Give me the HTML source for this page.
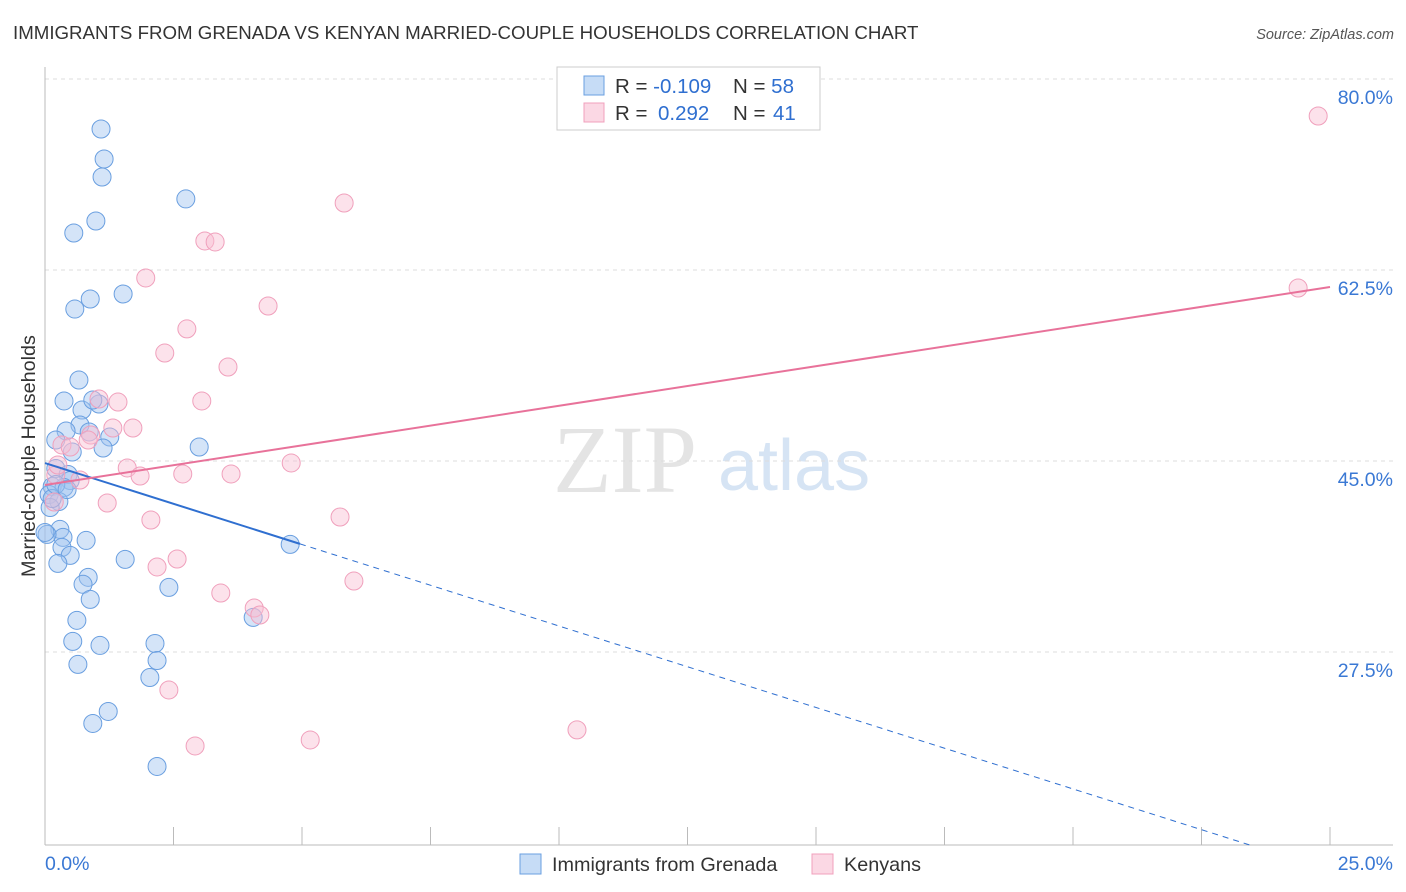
<!DOCTYPE html>
<html><head><meta charset="utf-8"><style>
body{margin:0;background:#fff;font-family:"Liberation Sans",sans-serif;}
svg{display:block}
</style></head><body>
<svg id="chart" width="1406" height="892" xmlns="http://www.w3.org/2000/svg">
<text x="13" y="39" font-size="18.7" fill="#333">IMMIGRANTS FROM GRENADA VS KENYAN MARRIED-COUPLE HOUSEHOLDS CORRELATION CHART</text>
<text x="1394" y="39" font-size="14.5" fill="#555" font-style="italic" text-anchor="end">Source: ZipAtlas.com</text>
<g>
<text x="553" y="492" font-family="Liberation Serif,serif" font-size="96" fill="#e4e4e4">ZIP</text>
<text x="718" y="490" font-size="72" fill="#d6e4f4">atlas</text>
</g>
<g id="grid"></g>
<g id="axes"></g>
<g id="pts"></g>
<g id="trends"></g>
<text transform="translate(35,456) rotate(-90)" font-size="19.8" fill="#333" text-anchor="middle">Married-couple Households</text>
<g>
<rect x="557" y="67" width="263" height="63" fill="#fff" stroke="#ccc"/>
<rect x="584" y="76" width="20" height="19" fill="rgba(160,196,240,0.6)" stroke="#6a9fe0"/>
<text x="615" y="93" font-size="20.5" fill="#333">R = <tspan fill="#2f6fd0">-0.109</tspan><tspan x="733">N = </tspan><tspan fill="#2f6fd0">58</tspan></text>
<rect x="584" y="103" width="20" height="19" fill="rgba(248,190,210,0.6)" stroke="#f0a0bc"/>
<text x="615" y="120" font-size="20.5" fill="#333">R = <tspan x="658" fill="#2f6fd0">0.292</tspan><tspan x="733">N = </tspan><tspan x="773" fill="#2f6fd0">41</tspan></text>
</g>
<g>
<rect x="520" y="854" width="21" height="20" fill="rgba(160,196,240,0.6)" stroke="#6a9fe0"/>
<text x="552" y="871" font-size="19.8" fill="#333">Immigrants from Grenada</text>
<rect x="812" y="854" width="21" height="20" fill="rgba(248,190,210,0.6)" stroke="#f0a0bc"/>
<text x="844" y="871" font-size="19.8" fill="#333">Kenyans</text>
</g>
</svg>
<script>
const yTicks=[80,62.5,45,27.5];
const yTickLabels=["80.0%","62.5%","45.0%","27.5%"];
const xTicks=[0,2.5,5,7.5,10,12.5,15,17.5,20,22.5,25];
const xEndLabels=["0.0%","25.0%"];
const grenadaX=[1.09,1.15,1.11,2.74,0.99,0.56,1.52,0.88,0.58,0.66,0.37,1.05,0.72,0.93,0.68,0.41,0.86,1.26,0.21,0.53,1.13,3.00,0.21,0.45,0.49,0.14,0.37,0.08,0.27,0.10,0.29,0.35,0.80,0.33,0.49,0.04,0.25,1.56,4.77,0.84,0.74,2.41,0.88,0.62,4.05,0.54,1.07,2.14,0.64,2.18,2.04,1.23,0.93,2.18,0.14,0.21,0.43,0.0];
const grenadaY=[77.07,74.32,72.67,70.66,68.64,67.54,61.95,61.49,60.57,54.07,52.15,51.87,51.32,52.24,49.95,49.40,49.31,48.85,48.57,47.47,47.84,47.93,45.96,45.41,44.86,44.31,44.22,43.58,42.94,42.39,40.38,39.65,39.37,38.73,38.00,39.92,37.27,37.63,39.01,35.99,35.35,35.07,33.97,32.05,32.32,30.12,29.75,29.93,28.01,28.37,26.81,23.70,22.60,18.66,43.21,44.49,44.03,40.1];
const kenyaX=[24.77,24.38,5.82,3.11,3.31,1.96,4.34,2.76,2.33,3.56,1.05,1.42,3.05,1.71,1.32,0.89,0.33,0.49,1.60,4.79,2.68,3.62,1.85,0.68,0.21,0.18,1.21,2.06,5.74,2.57,2.18,6.01,3.42,4.07,4.18,2.41,2.92,5.16,10.35,0.84,0.25];
const kenyaY=[78.26,62.50,70.29,66.81,66.72,63.42,60.85,58.75,56.54,55.26,52.33,52.05,52.15,49.67,49.67,49.03,48.12,47.93,46.01,46.47,45.46,45.46,45.27,44.91,45.37,42.89,42.80,41.24,41.52,37.67,36.94,35.65,34.55,33.18,32.54,25.67,20.54,21.09,22.01,48.57,46.28];
const grenadaTrend=[46.46,-1.493];
const kenyaTrend=[44.45,0.7256];
const grenadaSolidEnd=4.96;

const NS="http://www.w3.org/2000/svg";
const X0=45,X1=1330,PB=845;
function xs(v){return X0+(v/25)*(X1-X0);}
function ys(v){return 97+(80-v)*10.914;}
function mk(tag,attrs,parent){const e=document.createElementNS(NS,tag);for(const k in attrs)e.setAttribute(k,attrs[k]);document.getElementById(parent).appendChild(e);return e;}

yTicks.forEach((t,i)=>{
  const g=mk('line',{x1:45,x2:1393,y1:ys(t)-18,y2:ys(t)-18,stroke:'#ddd','stroke-dasharray':'4,4'},'grid');
  
  
  const l=mk('text',{x:1393,y:ys(t)+7,'font-size':19.5,fill:'#3a78d4','text-anchor':'end'},'grid');
  l.textContent=yTickLabels[i];
  
  
});
const ax=mk('line',{x1:45,x2:45,y1:67,y2:PB,stroke:'#bbb'},'axes');


const bx=mk('line',{x1:45,x2:1393,y1:PB,y2:PB,stroke:'#bbb'},'axes');


xTicks.forEach(t=>{
  const tk=mk('line',{x1:xs(t),x2:xs(t),y1:PB,y2:827,stroke:'#bbb'},'axes');
  
  
});
const l0=mk('text',{x:45,y:870,'font-size':19.5,fill:'#3a78d4'},'axes');
l0.textContent=xEndLabels[0];


const l1=mk('text',{x:1393,y:870,'font-size':19.5,fill:'#3a78d4','text-anchor':'end'},'axes');
l1.textContent=xEndLabels[1];



grenadaX.forEach((x,i)=>{
  const c=mk('circle',{cx:xs(x),cy:ys(grenadaY[i]),r:9,fill:'rgba(160,196,240,0.45)',stroke:'#6a9fe0','stroke-width':1},'pts');
  
  
});
kenyaX.forEach((x,i)=>{
  const c=mk('circle',{cx:xs(x),cy:ys(kenyaY[i]),r:9,fill:'rgba(248,190,210,0.45)',stroke:'#f0a0bc','stroke-width':1},'pts');
  
  
});
function tY(tr,x){return tr[0]+tr[1]*x;}
const gs=mk('line',{x1:xs(0),y1:ys(tY(grenadaTrend,0)),x2:xs(grenadaSolidEnd),y2:ys(tY(grenadaTrend,grenadaSolidEnd)),stroke:'#2f6fd0','stroke-width':2},'trends');


const xEnd=(11.46-grenadaTrend[0])/grenadaTrend[1];
const gd=mk('line',{x1:xs(grenadaSolidEnd),y1:ys(tY(grenadaTrend,grenadaSolidEnd)),x2:xs(xEnd),y2:ys(tY(grenadaTrend,xEnd)),stroke:'#2f6fd0','stroke-width':1,'stroke-dasharray':'6,5'},'trends');


const kt=mk('line',{x1:xs(0),y1:ys(tY(kenyaTrend,0)),x2:xs(25),y2:ys(tY(kenyaTrend,25)),stroke:'#e8729a','stroke-width':2},'trends');


</script>
</body></html>
